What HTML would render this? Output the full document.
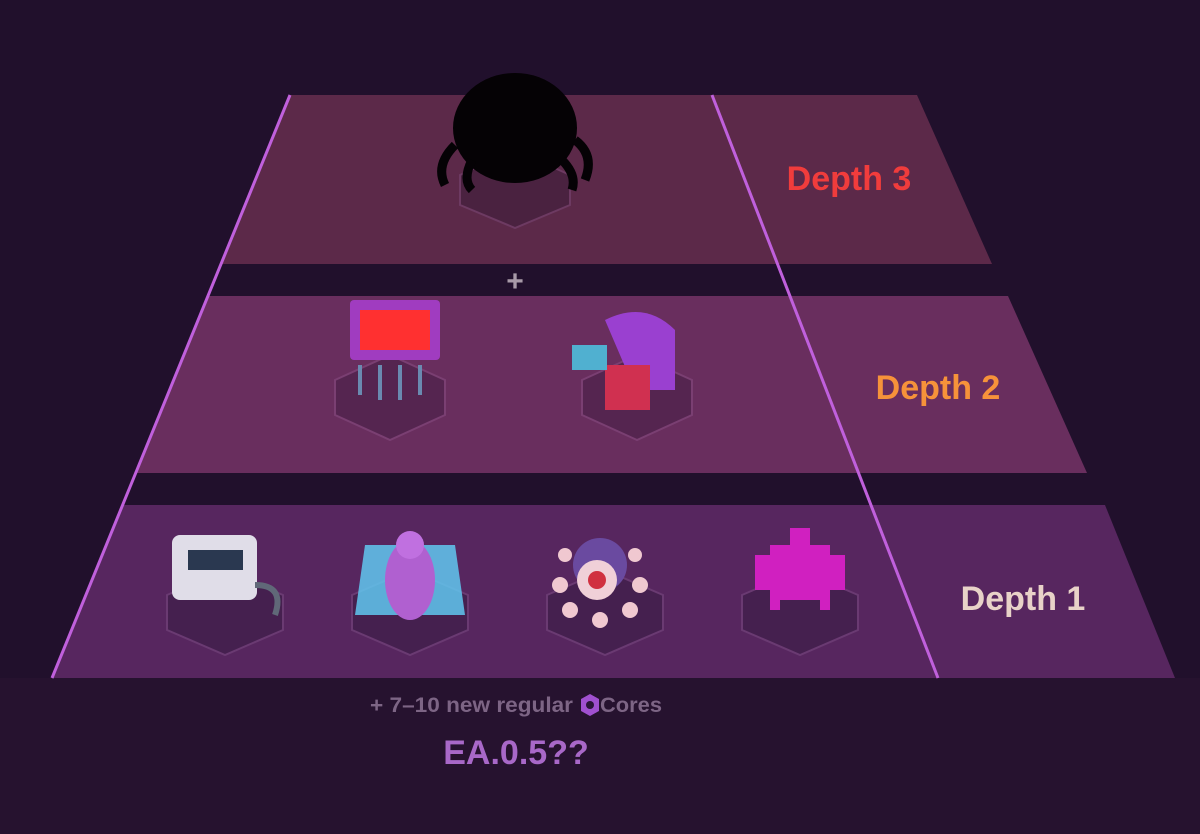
<!DOCTYPE html>
<html><head><meta charset="utf-8"><style>
html,body{margin:0;padding:0;background:#21102c;}
svg{display:block}
text{font-family:"Liberation Sans",sans-serif;font-weight:bold}
</style></head><body>
<svg width="1200" height="834" viewBox="0 0 1200 834">
<rect width="1200" height="834" fill="#21102c"/>
<rect y="678" width="1200" height="156" fill="#26122f"/>
<polygon points="290,95 917,95 992,264 221,264" fill="#5c2949"/>
<polygon points="208,296 1008,296 1087,473 136,473" fill="#692e5e"/>
<polygon points="122,505 1105,505 1175,678 52,678" fill="#57265f"/>
<line x1="290" y1="95" x2="52" y2="678" stroke="#c060dc" stroke-width="3"/>
<line x1="712" y1="95" x2="938" y2="678" stroke="#c060dc" stroke-width="3"/>
<g fill="#4a2240" stroke="#6d3a62" stroke-width="2">
<polygon points="515,150 570,175 570,205 515,228 460,205 460,175"/>
</g>
<g fill="#552550" stroke="#7a3f72" stroke-width="2">
<polygon points="390,355 445,380 445,415 390,440 335,415 335,380"/>
<polygon points="637,355 692,380 692,415 637,440 582,415 582,380"/>
</g>
<g fill="#45204f" stroke="#6a3a72" stroke-width="2">
<polygon points="225,570 283,595 283,630 225,655 167,630 167,595"/>
<polygon points="410,570 468,595 468,630 410,655 352,630 352,595"/>
<polygon points="605,570 663,595 663,630 605,655 547,630 547,595"/>
<polygon points="800,570 858,595 858,630 800,655 742,630 742,595"/>
</g>
<!-- depth3 blob -->
<ellipse cx="515" cy="128" rx="62" ry="55" fill="#050205"/>
<path d="M455,145 q-20,20 -10,40 M472,160 q-10,20 0,30 M562,160 q15,15 10,30 M575,140 q20,15 10,40" stroke="#050205" stroke-width="9" fill="none"/>
<!-- depth2 -->
<rect x="350" y="300" width="90" height="60" rx="4" fill="#a03cc0"/>
<rect x="360" y="310" width="70" height="40" fill="#ff3030"/>
<path d="M360,365 v30 M380,365 v35 M400,365 v35 M420,365 v30" stroke="#6a8ab0" stroke-width="4"/>
<path d="M605,320 q40,-20 70,10 v60 h-40 z" fill="#9a40d0"/>
<rect x="605" y="365" width="45" height="45" fill="#d03050"/>
<rect x="572" y="345" width="35" height="25" fill="#50b0d0"/>
<!-- depth1 -->
<rect x="172" y="535" width="85" height="65" rx="8" fill="#e0dde8"/>
<rect x="188" y="550" width="55" height="20" fill="#2a3850"/>
<path d="M255,585 q30,0 20,30" stroke="#606878" stroke-width="6" fill="none"/>
<path d="M365,545 h90 l10,70 h-110 z" fill="#60c8f0" opacity="0.85"/>
<ellipse cx="410" cy="580" rx="25" ry="40" fill="#b060d0"/>
<circle cx="410" cy="545" r="14" fill="#c070e0"/>
<circle cx="600" cy="565" r="27" fill="#6a4aa0"/>
<circle cx="597" cy="580" r="20" fill="#f0d0d8"/>
<circle cx="597" cy="580" r="9" fill="#d03040"/>
<g fill="#f0c8d0"><circle cx="560" cy="585" r="8"/><circle cx="640" cy="585" r="8"/><circle cx="570" cy="610" r="8"/><circle cx="630" cy="610" r="8"/><circle cx="600" cy="620" r="8"/><circle cx="565" cy="555" r="7"/><circle cx="635" cy="555" r="7"/></g>
<path d="M770,545 h60 v10 h15 v35 h-15 v20 h-10 v-10 h-40 v10 h-10 v-20 h-15 v-35 h15 z" fill="#d020c0"/>
<rect x="790" y="528" width="20" height="17" fill="#d020c0"/>
<text x="849" y="190" font-size="34" fill="#f03c3c" text-anchor="middle">Depth 3</text>
<text x="938" y="399" font-size="34" fill="#f6923a" text-anchor="middle">Depth 2</text>
<text x="1023" y="610" font-size="34" fill="#e8d2c8" text-anchor="middle">Depth 1</text>
<text x="515" y="291" font-size="30" fill="#a89aa8" text-anchor="middle">+</text>
<text x="370" y="712" font-size="21" fill="#7d6585" textLength="203" lengthAdjust="spacingAndGlyphs">+ 7–10 new regular</text>
<polygon points="590,694 599,699 599,711 590,716 581,711 581,699" fill="#a050d0"/>
<circle cx="590" cy="705" r="4" fill="#2a1538"/>
<text x="600" y="712" font-size="21" fill="#7d6585" textLength="62" lengthAdjust="spacingAndGlyphs">Cores</text>
<text x="516" y="764" font-size="34" fill="#a868c8" text-anchor="middle">EA.0.5??</text>
</svg>
</body></html>
